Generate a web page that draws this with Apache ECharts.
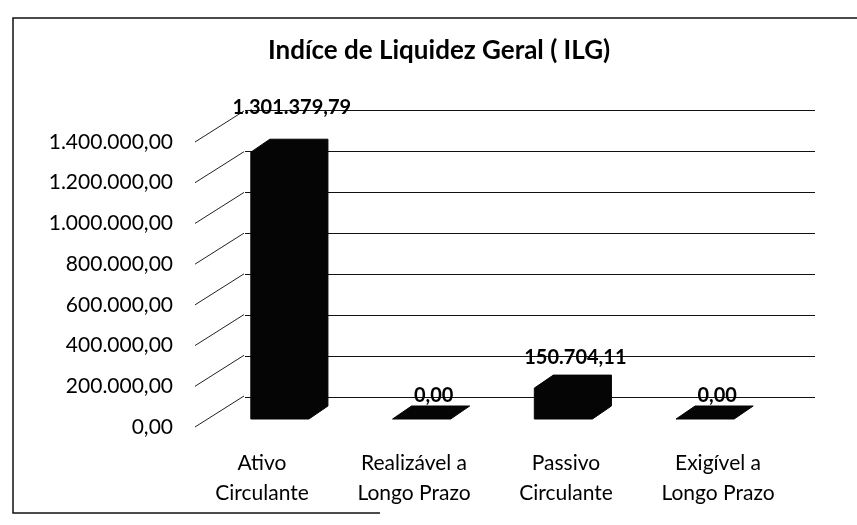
<!DOCTYPE html>
<html>
<head>
<meta charset="utf-8">
<script src="https://cdn.jsdelivr.net/npm/echarts@6/dist/echarts.min.js"></script>
<style>html,body{margin:0;padding:0;background:#fff}#c{width:857px;height:525px}</style>
</head>
<body>
<div id="c"></div>
<script>
const titleText = 'Indíce de Liquidez Geral ( ILG)';
const categories = ['Ativo\nCirculante', 'Realizável a\nLongo Prazo', 'Passivo\nCirculante', 'Exigível a\nLongo Prazo'];
const values = [1301379.79, 0, 150704.11, 0];
const yMin = 0, yMax = 1400000, yInterval = 200000;
const tickValues = [0, 200000, 400000, 600000, 800000, 1000000, 1200000, 1400000];

const FONT = 'Lato, "Noto Sans", sans-serif';
function fmt(v) {
  const neg = v < 0; v = Math.abs(v);
  const fixed = v.toFixed(2);
  let [ip, dp] = fixed.split('.');
  ip = ip.replace(/\B(?=(\d{3})+(?!\d))/g, '.');
  return (neg ? '-' : '') + ip + ',' + dp;
}

const chart = echarts.init(document.getElementById('c'), null, {renderer: 'canvas'});
const DX = 19, DY = -13;

const option = {
  backgroundColor: '#fff',
  animation: false,
  title: {
    text: titleText, left: 268, top: 38, padding: 0,
    textStyle: {fontFamily: FONT, fontWeight: 'bold', fontSize: 26, color: '#000'}
  },
  graphic: [{
    type: 'polyline', silent: true,
    shape: {points: [[857, 18], [13, 18], [13, 513], [380, 513]]},
    style: {stroke: '#111', lineWidth: 1.5, fill: null}
  }],
  grid: [
    {left: 245, right: 42, top: 110, bottom: 128},   // back wall
    {left: 209, right: 81, top: 132, bottom: 106},   // bars
    {left: 186, right: 63, top: 142, bottom: 98}     // front axis + labels
  ],
  xAxis: [
    {gridIndex: 0, type: 'category', data: categories, show: false},
    {gridIndex: 1, type: 'category', data: categories, show: false},
    {gridIndex: 2, type: 'category', data: categories,
     axisLine: {show: false}, axisTick: {show: false},
     axisLabel: {fontFamily: FONT, fontSize: 21, lineHeight: 30, margin: 21, color: '#000', interval: 0}}
  ],
  yAxis: [
    {gridIndex: 0, type: 'value', min: yMin, max: yMax, interval: yInterval,
     axisLine: {show: false}, axisTick: {show: false}, axisLabel: {show: false},
     splitLine: {show: true, lineStyle: {color: '#111', width: 1}}},
    {gridIndex: 1, type: 'value', min: yMin, max: yMax, interval: yInterval, show: false},
    {gridIndex: 2, type: 'value', min: yMin, max: yMax, interval: yInterval,
     axisLine: {show: false}, axisTick: {show: false}, splitLine: {show: false},
     axisLabel: {fontFamily: FONT, fontSize: 21, color: '#000', margin: 13, formatter: fmt}}
  ],
  series: [
    {
      type: 'custom', xAxisIndex: 2, yAxisIndex: 2, silent: true, clip: false,
      data: tickValues.map(v => [0, v]),
      renderItem: function (params, api) {
        const p = api.coord([0, api.value(1)]);
        const x0 = params.coordSys.x + 9;
        return {type: 'line', shape: {x1: x0, y1: p[1], x2: x0 + 49, y2: p[1] - 31},
                style: {stroke: '#222', lineWidth: 1}};
      }
    },
    {
      type: 'custom', xAxisIndex: 1, yAxisIndex: 1, silent: true, clip: false,
      data: values.map((v, i) => [i, v]),
      renderItem: function (params, api) {
        const i = api.value(0), v = api.value(1);
        const base = api.coord([i, 0]);
        const top = api.coord([i, v]);
        const w = api.size([1, 0])[0] * 0.41;
        const x0 = base[0] - w / 2, x1 = base[0] + w / 2;
        const yb = base[1], yt = top[1];
        const pts = [[x0, yb], [x1, yb], [x1 + DX, yb + DY], [x1 + DX, yt + DY], [x0 + DX, yt + DY], [x0, yt]];
        const off = 10 + 1.3 * Math.sqrt(Math.max(0, yb - yt));
        return {
          type: 'group',
          children: [
            {type: 'polygon', shape: {points: pts}, style: {fill: '#050505', stroke: '#050505', lineWidth: 1}},
            {type: 'text', style: {text: fmt(v), x: base[0] + 12, y: yt + DY - off,
              align: 'center', verticalAlign: 'middle',
              fontFamily: FONT, fontWeight: 'bold', fontSize: 20, fill: '#000'}}
          ]
        };
      }
    }
  ]
};
chart.setOption(option);
</script>
</body>
</html>
